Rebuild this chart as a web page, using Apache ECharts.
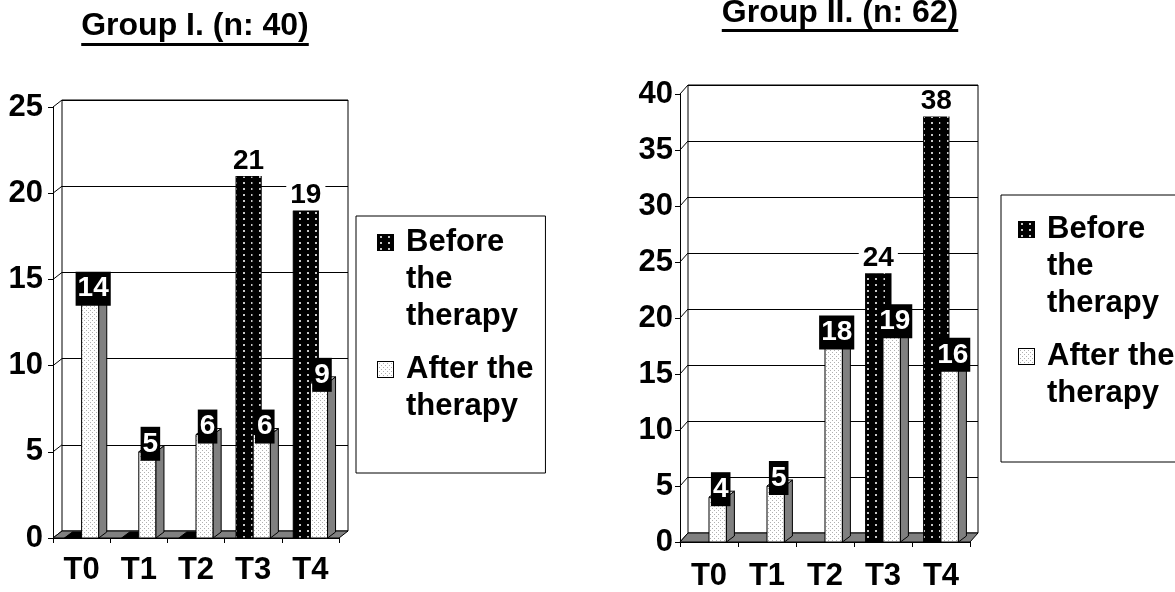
<!DOCTYPE html>
<html><head><meta charset="utf-8">
<script src="https://cdn.jsdelivr.net/npm/echarts@6/dist/echarts.min.js"></script>
<style>html,body{margin:0;padding:0;background:#fff}#c{width:1175px;height:592px}</style>
</head><body><div id="c"></div>
<script>
// ---- data ----
const categories = ['T0', 'T1', 'T2', 'T3', 'T4'];
const seriesNames = ['Before the therapy', 'After the therapy'];
const titles = ['Group I. (n: 40)', 'Group II. (n: 62)'];
const g1Before = [0, 0, 0, 21, 19];
const g1After = [14, 5, 6, 6, 9];
const g2Before = [null, null, null, 24, 38];
const g2After = [4, 5, 18, 19, 16];
const g1YTicks = [0, 5, 10, 15, 20, 25];
const g2YTicks = [0, 5, 10, 15, 20, 25, 30, 35, 40];

// ---- styling helpers ----
const FONT = 'Liberation Sans';
function makeCanvas(w, h, draw) { const c = document.createElement('canvas'); c.width = w; c.height = h; draw(c.getContext('2d'), w, h); return c; }
const beforeTile = makeCanvas(8, 6, (x) => { x.fillStyle = '#000'; x.fillRect(0, 0, 8, 6); x.fillStyle = '#c8c8c8'; x.fillRect(3, 2, 2, 2); });
const afterTile = makeCanvas(4, 4, (x) => { x.fillStyle = '#fff'; x.fillRect(0, 0, 4, 4); x.fillStyle = '#b0b0b0'; x.fillRect(0, 0, 1, 1); x.fillRect(2, 2, 1, 1); });
const beforeFill = { image: beforeTile, repeat: 'repeat' };
const afterFill = { image: afterTile, repeat: 'repeat' };
function iconCanvas(tile) {
  return makeCanvas(17, 17, (x) => { x.fillStyle = x.createPattern(tile, 'repeat'); x.fillRect(0, 0, 17, 17); x.strokeStyle = '#000'; x.lineWidth = 1; x.strokeRect(0.5, 0.5, 16, 16); });
}
const beforeIcon = iconCanvas(beforeTile);
const afterIcon = iconCanvas(afterTile);

const BDX = 8, BDY = -6;
function barRender(kind) {
  return function (params, api) {
    const v = api.value(1);
    if (v == null || isNaN(v)) return null;
    const cat = api.value(0);
    const base = api.coord([cat, 0]);
    const top = api.coord([cat, v]);
    const band = api.size([1, 0])[0];
    const w = band * 0.3;
    const x0 = kind === 'before' ? base[0] - w : base[0];
    const yb = base[1], yt = top[1];
    const frontFill = kind === 'before' ? beforeFill : afterFill;
    const sideFill = kind === 'before' ? beforeFill : '#808080';
    const topFill = kind === 'before' ? '#000' : afterFill;
    const ch = [];
    if (yb - yt > 0.5) ch.push({ type: 'rect', shape: { x: x0, y: yt, width: w, height: yb - yt }, style: { fill: frontFill, stroke: '#000', lineWidth: 1 } });
    ch.push({ type: 'polygon', shape: { points: [[x0 + w, yt], [x0 + w + BDX, yt + BDY], [x0 + w + BDX, yb + BDY], [x0 + w, yb]] }, style: { fill: sideFill, stroke: '#000', lineWidth: 1 } });
    ch.push({ type: 'polygon', shape: { points: [[x0, yt], [x0 + BDX, yt + BDY], [x0 + w + BDX, yt + BDY], [x0 + w, yt]] }, style: { fill: topFill, stroke: '#000', lineWidth: 1 } });
    if (v > 0) {
      if (kind === 'after') {
        ch.push({ type: 'text', z2: 10, style: { text: String(v), x: x0 + w / 2 + BDX / 2 - 1, y: yt - 8, align: 'center', verticalAlign: 'middle', fill: '#fff', backgroundColor: '#000', padding: [4, 2, 2, 2], fontSize: 28, fontWeight: 'bold', fontFamily: FONT } });
      } else {
        ch.push({ type: 'text', z2: 10, style: { text: String(v), x: x0 + (w + BDX) / 2, y: yt, align: 'center', verticalAlign: 'bottom', fill: '#000', backgroundColor: '#fff', padding: [0, 4, 1, 4], fontSize: 28, fontWeight: 'bold', fontFamily: FONT } });
      }
    }
    return { type: 'group', children: ch };
  };
}
function decorRender(dx, dy) {
  return function (params, api) {
    const cs = params.coordSys;
    const v = api.value(1);
    const y = api.coord([0, v])[1];
    const x = cs.x;
    const ch = [{ type: 'line', shape: { x1: x, y1: y, x2: x + dx, y2: y + dy }, style: { stroke: '#000', lineWidth: 1 } }];
    if (v === 0) {
      ch.push({ type: 'polygon', shape: { points: [[x, y], [x + cs.width, y], [x + cs.width + dx, y + dy], [x + dx, y + dy]] }, style: { fill: '#808080', stroke: '#000', lineWidth: 1 } });
    }
    return { type: 'group', children: ch };
  };
}

const labelStyle = { color: '#000', fontSize: 31, fontWeight: 'bold', fontFamily: FONT };
function frontX(gi, margin) { return { gridIndex: gi, type: 'category', data: categories, axisLine: { lineStyle: { color: '#000', width: 1 } }, axisTick: { show: true, length: 5, lineStyle: { color: '#000' } }, axisLabel: Object.assign({ margin: margin }, labelStyle) }; }
function backX(gi) { return { gridIndex: gi, type: 'category', data: categories, show: false }; }
function frontY(gi, t, margin) { return { gridIndex: gi, type: 'value', min: t[0], max: t[t.length - 1], interval: t[1] - t[0], axisLine: { show: true, lineStyle: { color: '#000' } }, axisTick: { show: true, length: 5, lineStyle: { color: '#000' } }, splitLine: { show: false }, axisLabel: Object.assign({ margin: margin }, labelStyle) }; }
function backY(gi, t) { return { gridIndex: gi, type: 'value', min: t[0], max: t[t.length - 1], interval: t[1] - t[0], axisLine: { show: false }, axisTick: { show: false }, axisLabel: { show: false }, splitLine: { show: true, lineStyle: { color: '#000', width: 1 } } }; }

const legendRich = {
  sq1: { width: 17, height: 17, backgroundColor: { image: beforeIcon } },
  sq2: { width: 17, height: 17, backgroundColor: { image: afterIcon } },
  sp: { width: 12 },
  ind: { width: 29 }
};
function legendFmt(name) {
  return name === seriesNames[0] ? '{sq1|}{sp|}Before\n{ind|}the\n{ind|}therapy' : '{sq2|}{sp|}After the\n{ind|}therapy';
}
function legendCfg(left, top, padding) {
  return { left: left, top: top, orient: 'vertical', data: seriesNames, selectedMode: false, borderColor: '#000', borderWidth: 1, padding: padding, itemGap: 16, itemWidth: 0, itemHeight: 0, icon: 'rect', formatter: legendFmt, textStyle: { color: '#000', fontSize: 31, fontWeight: 'bold', fontFamily: FONT, lineHeight: 37, rich: legendRich } };
}

// measure title widths for underline
const TFS = 32;
const mctx = document.createElement('canvas').getContext('2d');
mctx.font = 'bold ' + TFS + 'px "' + FONT + '"';
const tw0 = mctx.measureText(titles[0]).width, tw1 = mctx.measureText(titles[1]).width;
const titleStyle = { fontSize: TFS, fontWeight: 'bold', fontFamily: FONT, color: '#000' };

const chart = echarts.init(document.getElementById('c'), null, { renderer: 'canvas' });
chart.setOption({
  animation: false,
  backgroundColor: '#fff',
  title: [
    { text: titles[0], left: 195, top: 10, textAlign: 'center', textStyle: titleStyle, padding: 0 },
    { text: titles[1], left: 840, top: -3, textAlign: 'center', textStyle: titleStyle, padding: 0 }
  ],
  graphic: [
    { type: 'rect', left: 195 - tw0 / 2, top: 43, shape: { width: tw0, height: 3 }, style: { fill: '#000' } },
    { type: 'rect', left: 840 - tw1 / 2, top: 29, shape: { width: tw1, height: 3 }, style: { fill: '#000' } }
  ],
  legend: [legendCfg(356, 216, [8, 12, 48, 16]), legendCfg(1001, 195, [16, 12, 50, 12])],
  grid: [
    { left: 53, top: 107, width: 286, height: 431 },
    { left: 62, top: 100, width: 286, height: 431, show: true, borderColor: '#000', borderWidth: 1, backgroundColor: '#fff' },
    { left: 680, top: 94, width: 290, height: 448 },
    { left: 688, top: 85, width: 290, height: 448, show: true, borderColor: '#000', borderWidth: 1, backgroundColor: '#fff' }
  ],
  xAxis: [frontX(0, 17), backX(1), frontX(2, 19), backX(3)],
  yAxis: [frontY(0, g1YTicks, 10), backY(1, g1YTicks), frontY(2, g2YTicks, 7), backY(3, g2YTicks)],
  series: [
    { type: 'custom', name: 'floorL', xAxisIndex: 0, yAxisIndex: 0, silent: true, z: 1, renderItem: decorRender(9, -7), data: g1YTicks.map(v => [0, v]) },
    { type: 'custom', name: seriesNames[0], xAxisIndex: 0, yAxisIndex: 0, z: 3, itemStyle: { color: beforeFill }, renderItem: barRender('before'), data: g1Before.map((v, i) => [i, v]) },
    { type: 'custom', name: seriesNames[1], xAxisIndex: 0, yAxisIndex: 0, z: 4, itemStyle: { color: afterFill }, renderItem: barRender('after'), data: g1After.map((v, i) => [i, v]) },
    { type: 'custom', name: 'floorR', xAxisIndex: 2, yAxisIndex: 2, silent: true, z: 1, renderItem: decorRender(8, -9), data: g2YTicks.map(v => [0, v]) },
    { type: 'custom', name: seriesNames[0], xAxisIndex: 2, yAxisIndex: 2, z: 3, itemStyle: { color: beforeFill }, renderItem: barRender('before'), data: g2Before.map((v, i) => [i, v]) },
    { type: 'custom', name: seriesNames[1], xAxisIndex: 2, yAxisIndex: 2, z: 4, itemStyle: { color: afterFill }, renderItem: barRender('after'), data: g2After.map((v, i) => [i, v]) }
  ]
});
</script></body></html>
